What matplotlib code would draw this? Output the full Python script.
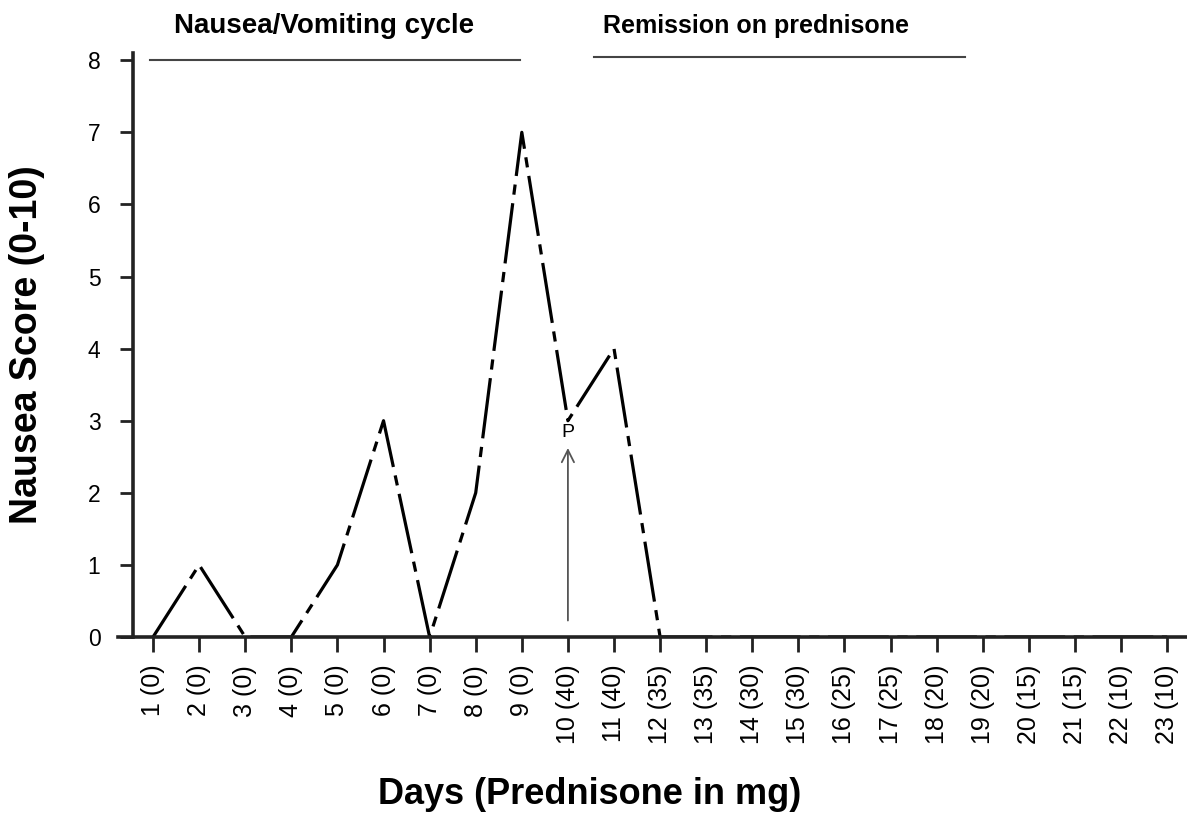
import matplotlib
matplotlib.use("Agg")
import matplotlib.pyplot as plt

plt.rcParams['font.family'] = ['Liberation Sans', 'DejaVu Sans']

days = list(range(1, 24))
prednisone_mg = [0, 0, 0, 0, 0, 0, 0, 0, 0, 40, 40, 35, 35, 30, 30, 25, 25, 20, 20, 15, 15, 10, 10]
nausea_score = [0, 1, 0, 0, 1, 3, 0, 2, 7, 3, 4, 0, 0, 0, 0, 0, 0, 0, 0, 0, 0, 0, 0]
tick_labels = [f"{d} ({p})" for d, p in zip(days, prednisone_mg)]
y_ticks = [0, 1, 2, 3, 4, 5, 6, 7, 8]

phase_labels = ["Nausea/Vomiting cycle", "Remission on prednisone"]
phase_spans = [(0.93, 8.96), (10.57, 18.62)]
phase_text_x = [4.71, 14.08]
prednisone_start_day = 10

W, H = 1187, 814
fig = plt.figure(figsize=(W / 100, H / 100), dpi=100)
ax = fig.add_axes([118 / W, 1 - 637 / H, (W - 118) / W, 584 / H])

ax.plot(days, nausea_score, color='black', lw=2.3,
        linestyle=(0, (19, 2.7, 3.2, 2.7)), solid_capstyle='butt', dash_capstyle='butt', zorder=2)

ax.set_xlim(0.24, 23.43)
ax.set_ylim(0, 8.1)
ax.spines['top'].set_visible(False)
ax.spines['right'].set_visible(False)
ax.spines['left'].set_position(('data', 0.566))
ax.spines['left'].set_bounds(0, 8.1)
for s in ('left', 'bottom'):
    ax.spines[s].set_linewidth(2.6)
    ax.spines[s].set_color('#222222')
    ax.spines[s].set_zorder(3)

ax.set_xticks(days)
ax.set_xticklabels(tick_labels, rotation=90, fontsize=18)
ax.set_yticks(y_ticks)
ax.set_yticklabels([str(v) for v in y_ticks], fontsize=16.5)
ax.tick_params(axis='x', length=11, width=2, pad=9, color='#222222')
ax.tick_params(axis='y', length=9.5, width=2, pad=14, color='#222222')

ax.set_ylabel("Nausea Score (0-10)", fontsize=27, fontweight='bold')
ax.yaxis.set_label_coords(-0.068, 0.5)
ax.set_xlabel("Days (Prednisone in mg)", fontsize=26, fontweight='bold')
ax.xaxis.set_label_coords(0.4415, -0.24)

# Phase bars and labels
for (x0, x1), yv in zip(phase_spans, [8.0, 8.05]):
    ax.plot([x0, x1], [yv, yv], color='#444444', lw=1.5, clip_on=False)
for lbl, xt, fs in zip(phase_labels, phase_text_x, [20, 18]):
    ax.text(xt, 8.48, lbl, ha='center', va='center', fontsize=fs, fontweight='bold', clip_on=False)

# Prednisone start arrow
ax.annotate("", xy=(prednisone_start_day, 2.66), xytext=(prednisone_start_day, 0.19),
            arrowprops=dict(arrowstyle='->', color='#555555', lw=1.3, mutation_scale=22))
ax.text(prednisone_start_day, 2.84, "P", ha='center', va='center', fontsize=14)

fig.savefig("out.png", dpi=100)
